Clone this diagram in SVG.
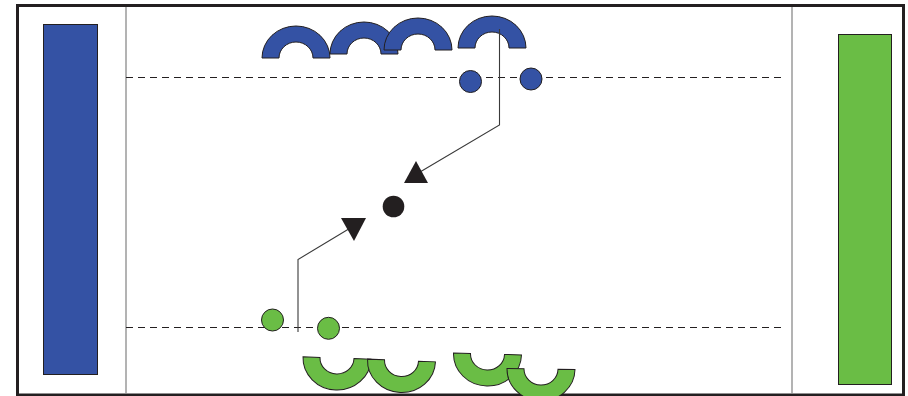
<svg xmlns="http://www.w3.org/2000/svg" width="908" height="396" viewBox="0 0 908 396">
<style>
.blue{fill:#3452a4;stroke:#231f20;stroke-width:1}
.green{fill:#6abd45;stroke:#231f20;stroke-width:1}
.dash{stroke:#231f20;stroke-width:1;stroke-dasharray:7 5;fill:none}
.lane{stroke:#8a8a8a;stroke-width:1.3;fill:none}
.conn{stroke:#3a3a3a;stroke-width:1.1;fill:none}
.blk{fill:#231f20}
</style>
<defs>
<path id="capUp" d="M-34,0 A34,32 0 0 1 34,0 L17,0 A17,16 0 0 0 -17,0 Z"/>
<path id="capDown" d="M-34,0 A34,32 0 0 0 34,0 L17,0 A17,16 0 0 1 -17,0 Z"/>
</defs>
<rect x="0" y="0" width="908" height="396" fill="#ffffff"/>
<g id="field">
<rect x="17.5" y="5.5" width="886" height="389.5" fill="#ffffff" stroke="#231f20" stroke-width="3"/>
<line class="lane" x1="126" y1="7" x2="126" y2="394"/>
<line class="lane" x1="792" y1="7" x2="792" y2="394"/>
<line class="dash" x1="126" y1="77.5" x2="786" y2="77.5"/>
<line class="dash" x1="126" y1="327.5" x2="786" y2="327.5"/>
</g>
<g id="blue-goal"><rect class="blue" x="43.5" y="24.5" width="54" height="350"/></g>
<g id="green-goal"><rect class="green" x="838.5" y="34.5" width="53" height="350" stroke="#3a5a2a"/></g>
<g id="blue-cap-1"><use href="#capUp" class="blue" transform="translate(296,58)"/></g>
<g id="blue-cap-2"><use href="#capUp" class="blue" transform="translate(364,54)"/></g>
<g id="blue-cap-3"><use href="#capUp" class="blue" transform="translate(418,50)"/></g>
<g id="blue-cap-4"><use href="#capUp" class="blue" transform="translate(492,48)"/></g>
<g id="green-cap-1"><use href="#capDown" class="green" transform="translate(337,358) rotate(2)"/></g>
<g id="green-cap-2"><use href="#capDown" class="green" transform="translate(401.5,360.5) rotate(2.3)"/></g>
<g id="green-cap-3"><use href="#capDown" class="green" transform="translate(487.5,354) rotate(1.5)"/></g>
<g id="green-cap-4"><use href="#capDown" class="green" transform="translate(541,369) rotate(1)"/></g>
<g id="blue-ball-1"><circle class="blue" cx="470.5" cy="81.5" r="11"/></g>
<g id="blue-ball-2"><circle class="blue" cx="531" cy="79" r="11"/></g>
<g id="green-ball-1"><circle class="green" cx="272.5" cy="320" r="11"/></g>
<g id="green-ball-2"><circle class="green" cx="328.5" cy="328.3" r="11"/></g>
<g id="connectors">
<polyline class="conn" points="499.5,29 499.5,125 420,172"/>
<polyline class="conn" points="298,332 298,259.5 352,227"/>
</g>
<g id="arrow-up"><polygon class="blk" points="416,161 404,183 428,183"/></g>
<g id="arrow-down"><polygon class="blk" points="341,218 366,218 354,241"/></g>
<g id="center-ball"><circle class="blk" cx="393.5" cy="206.5" r="10.8"/></g>
</svg>
